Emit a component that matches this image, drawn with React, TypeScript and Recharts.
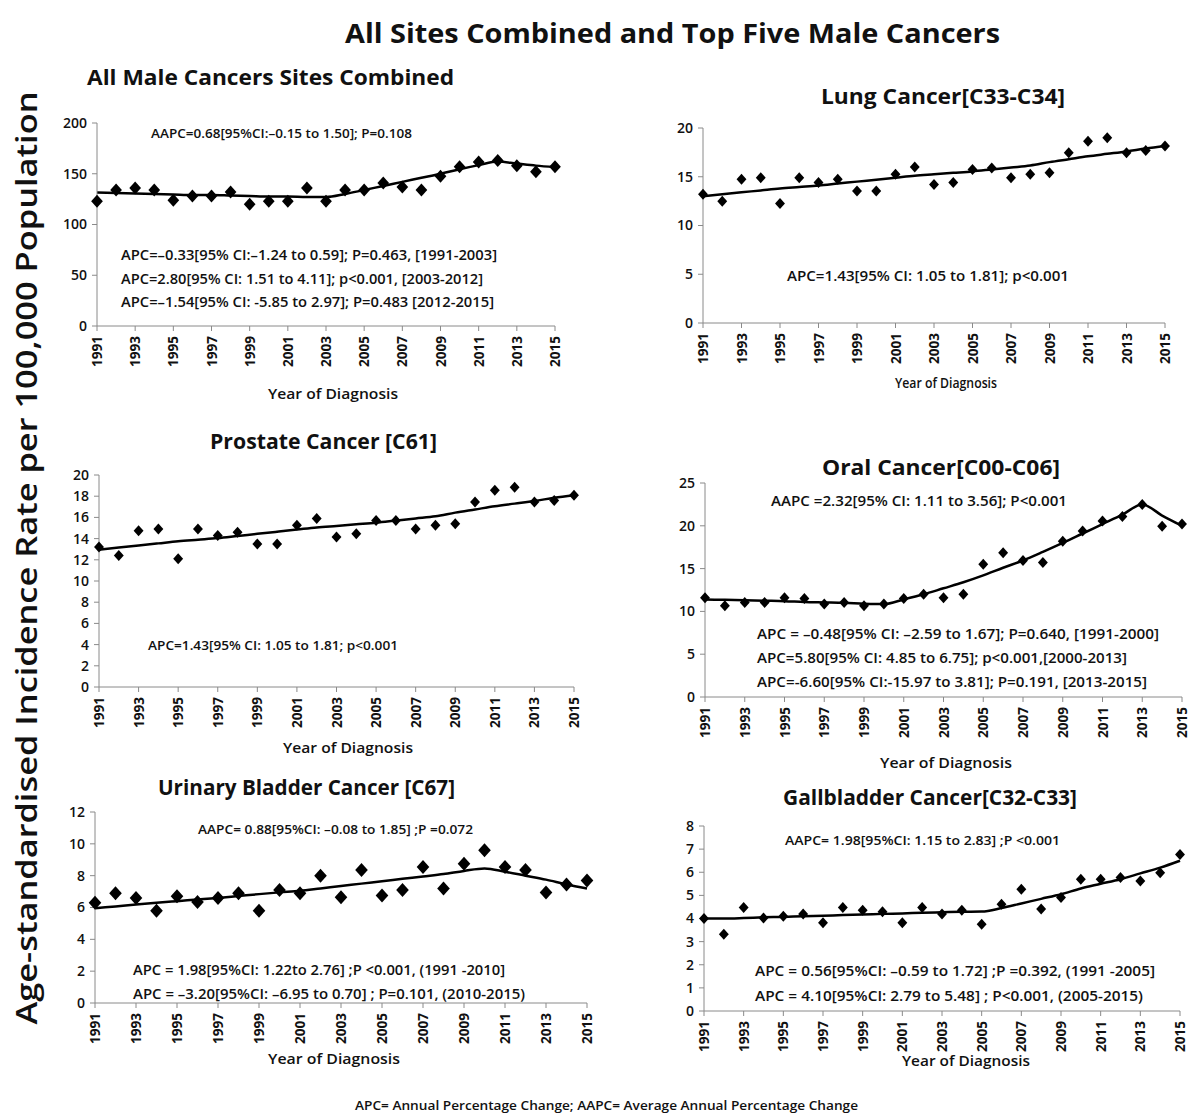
import { ComposedChart, Line, XAxis, YAxis } from 'recharts'

const FONT = '"Open Sans", "Noto Sans", sans-serif'

const years = [
  1991, 1992, 1993, 1994, 1995, 1996, 1997, 1998, 1999, 2000, 2001, 2002, 2003,
  2004, 2005, 2006, 2007, 2008, 2009, 2010, 2011, 2012, 2013, 2014, 2015,
]
const yearTicks = [1991, 1993, 1995, 1997, 1999, 2001, 2003, 2005, 2007, 2009, 2011, 2013, 2015]

// observed rates and joinpoint fitted rates
const allSitesObserved = [123, 134, 136, 134, 124, 128, 128, 132, 120, 123, 123, 136, 123, 134, 134, 141, 137, 134, 147.5, 157, 161.5, 163, 158, 152, 157]
const allSitesFitted = [131.5, 131, 130.5, 130, 129.5, 129, 129, 128.5, 128, 127.5, 127.5, 127, 127, 130, 134, 138, 142, 146, 150, 154.5, 158.5, 162, 160, 158, 156.5]

const lungObserved = [13.2, 12.5, 14.75, 14.9, 12.25, 14.9, 14.4, 14.75, 13.55, 13.55, 15.25, 16.0, 14.2, 14.4, 15.75, 15.9, 14.9, 15.25, 15.4, 17.45, 18.65, 19.0, 17.45, 17.7, 18.15]
const lungFitted = [13.0, 13.2, 13.4, 13.6, 13.8, 13.95, 14.1, 14.3, 14.5, 14.7, 14.9, 15.1, 15.25, 15.4, 15.55, 15.75, 15.95, 16.15, 16.5, 16.8, 17.1, 17.35, 17.6, 17.9, 18.15]

const prostateObserved = [13.2, 12.4, 14.75, 14.9, 12.1, 14.9, 14.3, 14.6, 13.5, 13.5, 15.25, 15.9, 14.15, 14.45, 15.7, 15.7, 14.9, 15.25, 15.4, 17.45, 18.55, 18.85, 17.45, 17.6, 18.1]
const prostateFitted = [12.95, 13.15, 13.35, 13.55, 13.75, 13.9, 14.05, 14.25, 14.45, 14.65, 14.85, 15.05, 15.2, 15.35, 15.5, 15.7, 15.9, 16.1, 16.45, 16.75, 17.05, 17.3, 17.55, 17.85, 18.1]

const oralObserved = [11.6, 10.65, 11.05, 11.05, 11.6, 11.5, 10.85, 11.05, 10.65, 10.85, 11.5, 12.0, 11.6, 12.0, 15.5, 16.85, 15.95, 15.7, 18.2, 19.4, 20.55, 21.1, 22.5, 19.95, 20.2]
const oralFitted = [11.4, 11.35, 11.3, 11.25, 11.2, 11.1, 11.05, 11.0, 10.9, 10.85, 11.4, 12.0, 12.7, 13.4, 14.2, 15.1, 15.95, 16.95, 18.0, 19.1, 20.2, 21.3, 22.5, 21.2, 20.0]

const bladderObserved = [6.3, 6.9, 6.6, 5.8, 6.7, 6.35, 6.6, 6.9, 5.8, 7.1, 6.9, 8.0, 6.65, 8.35, 6.75, 7.1, 8.55, 7.2, 8.75, 9.6, 8.55, 8.35, 6.95, 7.45, 7.7]
const bladderFitted = [5.95, 6.07, 6.19, 6.3, 6.4, 6.5, 6.6, 6.72, 6.84, 6.95, 7.05, 7.2, 7.35, 7.5, 7.65, 7.8, 7.95, 8.1, 8.3, 8.45, 8.25, 8.0, 7.75, 7.45, 7.2]

const gallObserved = [4.0, 3.32, 4.48, 4.02, 4.1, 4.19, 3.82, 4.48, 4.36, 4.29, 3.82, 4.48, 4.19, 4.36, 3.75, 4.62, 5.27, 4.41, 4.91, 5.7, 5.7, 5.77, 5.62, 5.98, 6.77]
const gallFitted = [4.0, 4.0, 4.02, 4.05, 4.07, 4.1, 4.12, 4.15, 4.17, 4.2, 4.22, 4.25, 4.27, 4.29, 4.3, 4.45, 4.65, 4.85, 5.05, 5.3, 5.5, 5.7, 5.95, 6.2, 6.5]

// text blocks: [text, left, right, centerY, fontSize, fontWeight]
type Txt = [string, number, number, number, number, number]
const texts: Txt[] = [
  ['All Sites Combined and Top Five Male Cancers', 345, 1000, 33, 26, 700],
  ['All Male Cancers Sites Combined', 87, 454, 77, 21, 700],
  ['Lung Cancer[C33-C34]', 821, 1065, 96, 21, 700],
  ['Prostate Cancer [C61]', 210, 437, 441, 21, 700],
  ['Oral Cancer[C00-C06]', 822, 1060, 467, 21, 700],
  ['Urinary Bladder Cancer [C67]', 158, 455, 787, 21, 700],
  ['Gallbladder Cancer[C32-C33]', 783, 1077, 797, 21, 700],

  ['Year of Diagnosis', 268, 398, 393, 14, 600],
  ['Year of Diagnosis', 895, 997, 382, 14, 600],
  ['Year of Diagnosis', 283, 413, 747, 14, 600],
  ['Year of Diagnosis', 880, 1012, 762, 14, 600],
  ['Year of Diagnosis', 268, 400, 1058, 14, 600],
  ['Year of Diagnosis', 902, 1030, 1060, 14, 600],

  ['AAPC=0.68[95%CI:\u20130.15 to 1.50]; P=0.108', 151, 412, 133, 13, 600],
  ['APC=\u20130.33[95% CI:\u20131.24 to 0.59]; P=0.463, [1991-2003]', 121, 497, 254, 14, 600],
  ['APC=2.80[95% CI: 1.51 to 4.11]; p<0.001, [2003-2012]', 121, 483, 278, 14, 600],
  ['APC=\u20131.54[95% CI: -5.85 to 2.97]; P=0.483 [2012-2015]', 121, 494, 301, 14, 600],

  ['APC=1.43[95% CI: 1.05 to 1.81]; p<0.001', 787, 1069, 275, 14, 600],
  ['APC=1.43[95% CI: 1.05 to 1.81; p<0.001', 148, 398, 645, 13, 600],

  ['AAPC =2.32[95% CI: 1.11 to 3.56]; P<0.001', 771, 1067, 500, 14, 600],
  ['APC = \u20130.48[95% CI: \u20132.59 to 1.67]; P=0.640, [1991-2000]', 757, 1159, 633, 14, 600],
  ['APC=5.80[95% CI: 4.85 to 6.75]; p<0.001,[2000-2013]', 757, 1127, 657, 14, 600],
  ['APC=-6.60[95% CI:-15.97 to 3.81]; P=0.191, [2013-2015]', 757, 1147, 681, 14, 600],

  ['AAPC= 0.88[95%CI: \u20130.08 to 1.85] ;P =0.072', 198, 473, 829, 13, 600],
  ['APC =  1.98[95%CI: 1.22to  2.76] ;P <0.001, (1991 -2010]', 133, 505, 969, 14, 600],
  ['APC =  \u20133.20[95%CI: \u20136.95 to 0.70] ; P=0.101,  (2010-2015)', 133, 525, 993, 14, 600],

  ['AAPC= 1.98[95%CI: 1.15 to 2.83] ;P <0.001', 785, 1060, 840, 13, 600],
  ['APC =  0.56[95%CI: \u20130.59 to 1.72] ;P =0.392, (1991 -2005]', 755, 1155, 970, 14, 600],
  ['APC =  4.10[95%CI: 2.79 to 5.48] ; P<0.001, (2005-2015)', 755, 1143, 995, 14, 600],

  ['APC= Annual Percentage Change; AAPC= Average Annual Percentage Change', 355, 858, 1105, 12, 600],
]

function YearTick(props: any) {
  const { x, y, payload } = props
  return (
    <text
      x={x}
      y={y}
      transform={`rotate(-90 ${x} ${y})`}
      dx={-3}
      dy={5}
      textAnchor="end"
      textLength={31}
      lengthAdjust="spacingAndGlyphs"
      fontSize={14}
      fontWeight={700}
      fontFamily={FONT}
      fill="#111"
    >
      {payload.value}
    </text>
  )
}

function diamond(r: number) {
  return (p: any) => {
    const { cx, cy, index } = p
    if (cx == null || cy == null) return <g key={index} />
    const w = r * 0.9
    return (
      <path
        key={index}
        d={`M${cx},${cy - r} L${cx + w},${cy} L${cx},${cy + r} L${cx - w},${cy} Z`}
        fill="#000"
      />
    )
  }
}

type PanelProps = {
  observed: number[]
  fitted: number[]
  left: number
  right: number
  top: number
  bottom: number
  yMax: number
  yTicks: number[]
  r: number
}

function Panel({ observed, fitted, left, right, top, bottom, yMax, yTicks, r }: PanelProps) {
  const axisW = 50
  const mTop = 10
  const mRight = 8
  const xAxisH = 55
  const data = years.map((year, i) => ({ year, observed: observed[i], fitted: fitted[i] }))
  return (
    <div style={{ position: 'absolute', left: left - axisW, top: top - mTop }}>
      <ComposedChart
        width={right - left + axisW + mRight}
        height={bottom - top + mTop + xAxisH}
        data={data}
        margin={{ top: mTop, right: mRight, bottom: 0, left: 0 }}
      >
        <XAxis
          dataKey="year"
          type="number"
          domain={[1991, 2015]}
          ticks={yearTicks}
          interval={0}
          height={xAxisH}
          stroke="#8a8a8a"
          tickSize={5}
          tick={(p: any) => <YearTick {...p} />}
        />
        <YAxis
          type="number"
          domain={[0, yMax]}
          ticks={yTicks}
          interval={0}
          width={axisW}
          stroke="#8a8a8a"
          tickSize={5}
          tickMargin={5}
          tick={{ fontSize: 14, fill: '#111', fontFamily: FONT, fontWeight: 600 }}
        />
        <Line dataKey="fitted" type="monotone" stroke="#000" strokeWidth={2.5} dot={false} activeDot={false} isAnimationActive={false} />
        <Line dataKey="observed" stroke="none" dot={diamond(r)} activeDot={false} isAnimationActive={false} />
      </ComposedChart>
    </div>
  )
}

export default function App() {
  return (
    <div style={{ position: 'absolute', left: 0, top: 0, width: 1192, height: 1115, background: '#fff', overflow: 'hidden' }}>
      <Panel observed={allSitesObserved} fitted={allSitesFitted} left={97} right={555} top={123} bottom={326} yMax={200} yTicks={[0, 50, 100, 150, 200]} r={6.5} />
      <Panel observed={lungObserved} fitted={lungFitted} left={703} right={1165} top={128} bottom={323} yMax={20} yTicks={[0, 5, 10, 15, 20]} r={5.5} />
      <Panel observed={prostateObserved} fitted={prostateFitted} left={99} right={574} top={475} bottom={687} yMax={20} yTicks={[0, 2, 4, 6, 8, 10, 12, 14, 16, 18, 20]} r={5.5} />
      <Panel observed={oralObserved} fitted={oralFitted} left={705} right={1182} top={483} bottom={697} yMax={25} yTicks={[0, 5, 10, 15, 20, 25]} r={5.5} />
      <Panel observed={bladderObserved} fitted={bladderFitted} left={95} right={587} top={812} bottom={1003} yMax={12} yTicks={[0, 2, 4, 6, 8, 10, 12]} r={7} />
      <Panel observed={gallObserved} fitted={gallFitted} left={704} right={1180} top={826} bottom={1011} yMax={8} yTicks={[0, 1, 2, 3, 4, 5, 6, 7, 8]} r={5.5} />

      <svg width={1192} height={1115} style={{ position: 'absolute', left: 0, top: 0, pointerEvents: 'none' }}>
        {texts.map(([t, x1, x2, cy, size, weight], i) => (
          <text
            key={i}
            x={x1}
            y={cy}
            dominantBaseline="central"
            textLength={x2 - x1}
            lengthAdjust="spacingAndGlyphs"
            fontSize={size}
            fontWeight={weight}
            fontFamily={FONT}
            fill="#111"
          >
            {t}
          </text>
        ))}
        <text
          x={26}
          y={558}
          transform="rotate(-90 26 558)"
          textAnchor="middle"
          dominantBaseline="central"
          textLength={933}
          lengthAdjust="spacingAndGlyphs"
          fontSize={28}
          fontWeight={600}
          fontFamily={FONT}
          fill="#111"
        >
          Age-standardised Incidence Rate per 100,000 Population
        </text>
      </svg>
    </div>
  )
}
